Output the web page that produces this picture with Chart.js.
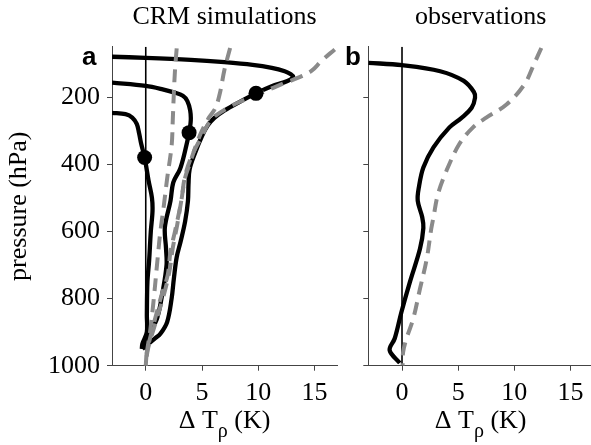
<!DOCTYPE html>
<html><head><meta charset="utf-8">
<script src="https://cdn.jsdelivr.net/npm/chart.js@4"></script>
<style>
html,body{margin:0;padding:0;background:#fff;overflow:hidden;width:591px;height:445px;}
#wa{position:absolute;left:0;top:0;width:345px;height:445px;}
#wb{position:absolute;left:340px;top:0;width:260px;height:445px;}
canvas{display:block;}
</style></head><body>
<div id="wa"><canvas id="ca" width="345" height="445"></canvas></div>
<div id="wb"><canvas id="cb" width="260" height="445"></canvas></div>
<script>
// ---- tick labels ----
const xTicks = [0, 5, 10, 15];
const pTicks = [200, 400, 600, 800, 1000];

// ---- panel a: CRM simulations (temperature excess T, pressure hPa) ----
const crm1T = [-3, 0, 4, 7, 9.5, 11.2, 12.35, 12.9, 13.1, 12.6, 11.2, 9.8, 8.2, 7.0, 6.1, 5.5, 5.0, 4.4, 3.9, 3.8, 3.75, 3.5, 3.1, 2.75, 2.5, 2.3, 1.9, 1.3, 0.85, 0.1, -0.3];
const crm1P = [80, 83, 89, 96, 104, 113, 123, 132, 140, 152, 168, 189, 217, 240, 262, 285, 316, 365, 415, 460, 510, 570, 630, 677, 740, 800, 870, 905, 918, 939, 950];
const crm2T = [-3, 0, 1.5, 2.5, 3.3, 3.7, 3.95, 4.0, 3.85, 3.5, 3.05, 2.45, 2.2, 1.7, 1.8, 1.85, 1.5, 1.0, 0.3, -0.3];
const crm2P = [157, 167, 177, 186, 196, 212, 240, 270, 306, 360, 414, 454, 509, 588, 650, 700, 780, 860, 905, 945];
const crm3T = [-3, -1.8, -1.2, -0.8, -0.6, -0.4, -0.1, 0.25, 0.55, 0.6, 0.45, 0.3, 0.15, 0.1, 0.1, -0.3, -0.35];
const crm3P = [247, 251, 261, 280, 306, 340, 380, 449, 500, 540, 600, 687, 750, 850, 900, 935, 950];
const par1T = [2.75, 2.6, 2.5, 2.4, 2.3, 1.9, 1.6, 1.3, 1.1, 1.0, 0.7, 0.4, 0.1, 0];
const par1P = [55, 120, 187, 270, 345, 443, 525, 600, 665, 700, 805, 895, 960, 1000];
const par2T = [7.5, 7.0, 6.6, 6.2, 5.6, 5.0, 4.4, 3.9, 3.5, 3.1, 2.6, 2.2, 1.95, 1.4, 0.6, 0.1, 0];
const par2P = [54, 118, 187, 232, 262, 300, 350, 400, 440, 520, 600, 660, 730, 790, 890, 960, 1000];
const par3T = [16.8, 15.6, 14.7, 13.5, 12.35, 10.3, 8.5, 7.3, 5.85, 5.0, 4.1, 3.5, 3.2, 2.8, 2.4, 2.1, 1.6, 0.8, 0.2, 0];
const par3P = [58, 93, 123, 143, 158, 187, 212, 232, 266, 316, 375, 434, 500, 580, 650, 720, 790, 880, 950, 1000];
const dotT = [9.8, 3.85, -0.1];
const dotP = [189, 306, 380];

// ---- panel b: observations ----
const obsT = [-3, 0, 3.4, 5.5, 6.4, 6.5, 6.2, 5.3, 4.2, 2.8, 1.9, 1.5, 1.4, 1.8, 1.9, 1.6, 0.7, -0.05, -0.65, -1.1, -0.2];
const obsP = [98, 105, 123, 152, 185, 202, 232, 262, 291, 350, 410, 469, 509, 558, 590, 652, 751, 840, 919, 954, 992];
const obsParT = [12.4, 11.8, 10.9, 9.3, 7.5, 6.3, 5.1, 3.95, 3.2, 2.8, 2.6, 2.2, 1.6, 1.0, 0.4, 0.1, 0.05];
const obsParP = [54, 98, 162, 222, 261, 291, 340, 420, 489, 558, 593, 682, 771, 860, 919, 960, 1000];

const zeroT = [0, 0];
const zeroP = [50, 1000];

const SERIF = '"Liberation Serif", "Times New Roman", Times, serif';
const SANS = '"Liberation Sans", Arial, sans-serif';
Chart.defaults.font.family = SERIF;
Chart.defaults.font.size = 26;
Chart.defaults.color = '#000';
const F26 = {family: SERIF, size: 26, weight: 'normal'};

function pts(T, P) { return T.map((t, i) => ({x: t, y: P[i]})); }
function blackLine(T, P) {
  return {data: pts(T, P), showLine: true, borderColor: '#000', borderWidth: 4.3,
    pointRadius: 0, tension: 0.35, order: 2, borderJoinStyle: 'round', borderCapStyle: 'butt'};
}
function grayLine(T, P) {
  return {data: pts(T, P), showLine: true, borderColor: '#8a8a8a', borderWidth: 4,
    borderDash: [13, 8], pointRadius: 0, tension: 0.35, order: 1};
}
function zeroLine() {
  return {data: pts(zeroT, zeroP), showLine: true, borderColor: '#000', borderWidth: 1.6,
    pointRadius: 0, order: 3};
}

const xTitlePlugin = {
  id: 'xtitle',
  afterDraw(chart, args, opts) {
    const {ctx, chartArea} = chart;
    ctx.save();
    ctx.fillStyle = '#000';
    ctx.textBaseline = 'alphabetic';
    ctx.textAlign = 'left';
    const big = '26px ' + SERIF, small = '20px ' + SERIF;
    ctx.font = big;
    const w1 = ctx.measureText('\u0394 T').width;
    const w3 = ctx.measureText(' (K)').width;
    ctx.font = small;
    const w2 = ctx.measureText('\u03C1').width;
    let x = (chartArea.left + chartArea.right) / 2 - (w1 + w2 + w3) / 2;
    const y = 428;
    ctx.font = big; ctx.fillText('\u0394 T', x, y); x += w1;
    ctx.font = small; ctx.fillText('\u03C1', x, y + 9); x += w2;
    ctx.font = big; ctx.fillText(' (K)', x, y);
    ctx.font = 'bold 26px ' + SANS;
    ctx.fillText(opts.letter, opts.lx, 65);
    ctx.restore();
  }
};

function makeScales(showYLabels, yWidth) {
  const y = {
    type: 'linear', reverse: true, min: 50, max: 1000,
    afterBuildTicks: s => { s.ticks = pTicks.map(v => ({value: v})); },
    afterFit: s => { s.width = yWidth; },
    grid: {drawOnChartArea: false, drawTicks: true, tickLength: 5, tickColor: '#444'},
    border: {display: true, color: '#444', width: 1},
    ticks: {display: showYLabels, padding: 7, autoSkip: false, color: '#000', font: F26,
      callback: v => String(v)},
    title: {display: showYLabels, text: 'pressure (hPa)', color: '#000', font: F26, padding: {top: 3.4, bottom: 0}}
  };
  const x = {
    type: 'linear', min: -3, max: 17,
    afterBuildTicks: s => { s.ticks = xTicks.map(v => ({value: v})); },
    afterFit: s => { s.height = 445 - 365.7; },
    grid: {drawOnChartArea: false, drawTicks: true, tickLength: 5, tickColor: '#444'},
    border: {display: true, color: '#444', width: 1},
    ticks: {padding: 7, autoSkip: false, maxRotation: 0, color: '#000', font: F26,
      callback: v => String(v)}
  };
  return {x, y};
}

function makeOptions(title, showYLabels, yWidth, padRight, letter, lx) {
  return {
    responsive: false, animation: false, events: [],
    layout: {padding: {left: 0, right: padRight, top: 0, bottom: 0}},
    scales: makeScales(showYLabels, yWidth),
    plugins: {
      legend: {display: false}, tooltip: {enabled: false},
      title: {display: true, text: title, fullSize: false, color: '#000',
        font: F26, padding: {top: 2, bottom: 13.5}},
      xtitle: {letter, lx}
    }
  };
}

new Chart(document.getElementById('ca'), {
  type: 'scatter',
  data: {datasets: [
    {data: pts(dotT, dotP), pointRadius: 7.5, pointBackgroundColor: '#000', pointBorderWidth: 0, showLine: false, order: 0},
    grayLine(par1T, par1P), grayLine(par2T, par2P), grayLine(par3T, par3P),
    blackLine(crm1T, crm1P), blackLine(crm2T, crm2P), blackLine(crm3T, crm3P),
    zeroLine()
  ]},
  options: makeOptions('CRM simulations', true, 112, 8, 'a', 82),
  plugins: [xTitlePlugin]
});

new Chart(document.getElementById('cb'), {
  type: 'scatter',
  data: {datasets: [
    grayLine(obsParT, obsParP),
    blackLine(obsT, obsP),
    zeroLine()
  ]},
  options: makeOptions('observations', false, 28.3, 7, 'b', 5),
  plugins: [xTitlePlugin]
});
</script>
</body></html>
